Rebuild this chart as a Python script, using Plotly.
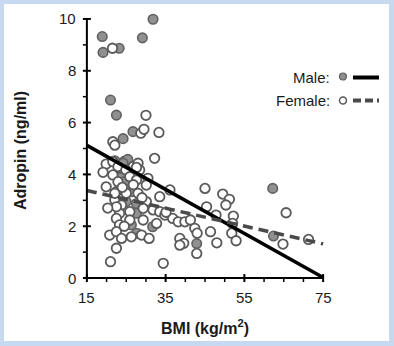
import plotly.graph_objects as go

# BMI (kg/m2) and adropin (ng/ml) per participant
male_bmi = [18.9, 19.1, 23.2, 29.1, 31.8, 21.0, 22.5, 26.7, 24.2, 22.1, 24.6, 25.4,
            24.2, 23.8, 24.6, 26.3, 25.0, 27.6, 27.6, 26.3, 31.7, 27.7, 42.9, 62.2, 62.4]
male_adropin = [9.32, 8.71, 8.87, 9.27, 9.99, 6.87, 6.29, 5.65, 5.38, 4.53, 4.52, 4.58,
                4.43, 3.98, 3.72, 3.33, 2.95, 2.88, 2.50, 2.05, 1.98, 1.73, 1.33, 3.46, 1.62]

female_bmi = [21.5, 30.0, 28.7, 29.5, 33.3, 21.6, 22.1, 32.2, 19.9, 19.1, 21.6, 23.3,
              22.9, 26.7, 28.0, 28.4, 27.6, 24.9, 21.6, 25.9, 27.6, 22.9, 30.5, 30.1,
              22.5, 25.0, 28.0, 33.5, 22.1, 23.8, 30.1, 29.3, 25.9, 23.3, 31.8, 33.5,
              22.5, 25.9, 23.3, 29.3, 32.7, 34.8, 20.8, 22.5, 23.8, 26.3, 28.9, 30.8,
              22.5, 21.0, 34.4, 36.1, 36.8, 38.2, 39.9, 41.3, 38.6, 39.6, 38.6, 42.9,
              48.0, 46.4, 42.4, 43.0, 45.0, 49.5, 51.2, 50.3, 45.4, 47.8, 52.2, 51.8,
              52.9, 52.0, 65.6, 64.8, 71.3, 19.9, 22.1, 22.5, 24.0, 26.8, 29.0, 24.5,
              20.3, 35.1]
female_adropin = [8.87, 6.28, 5.59, 5.74, 5.62, 5.26, 5.13, 4.62, 4.40, 4.08, 4.49, 4.24,
                  4.30, 4.30, 4.43, 4.17, 4.27, 4.17, 3.98, 3.91, 3.78, 3.72, 3.85, 3.59,
                  3.33, 3.27, 3.27, 3.14, 3.01, 2.82, 2.95, 2.69, 2.56, 2.50, 2.63, 2.56,
                  2.30, 2.24, 2.05, 2.24, 2.11, 2.43, 1.66, 1.79, 1.53, 1.59, 1.66, 1.53,
                  1.15, 0.63, 0.57, 3.40, 2.30, 2.17, 2.17, 2.24, 1.53, 1.34, 1.27, 0.95,
                  1.36, 1.79, 1.92, 1.73, 3.46, 3.24, 3.04, 2.82, 2.75, 2.43, 2.39, 1.73,
                  1.44, 2.11, 2.52, 1.31, 1.49, 3.52, 3.27, 2.75, 3.50, 3.60, 3.10, 2.00,
                  2.70, 2.54]

# Linear regression lines (endpoints over the BMI axis span)
fit_bmi = [15, 75]
male_fit = [5.12, 0.02]
female_fit = [3.38, 1.32]

x_ticks = [15, 35, 55, 75]
y_ticks = [0, 2, 4, 6, 8, 10]
x_minor = [20, 25, 30, 40, 45, 50, 60, 65, 70]
y_minor = [1, 3, 5, 7, 9]

# plot area is padded a little beyond the axes so the axis frame sits inside it
X_RANGE = [13, 77]
Y_RANGE = [-0.5, 10.5]

W_FIG, H_FIG = 394, 346
L, T, PW, PH = 79, 6, 252, 285
R, B = W_FIG - L - PW, H_FIG - T - PH


def px(x):
    return (x - L) / PW


def py(y):
    return (T + PH - y) / PH


FONT = "Liberation Sans, Arial, sans-serif"
EDGE = "#5a5a5a"
FRAME = "#c6d9f1"
TEXT = "#1a1a1a"
TICK = 4  # tick length, px

# tick length in data units along each direction
tick_dx = TICK * (X_RANGE[1] - X_RANGE[0]) / PW
tick_dy = TICK * (Y_RANGE[1] - Y_RANGE[0]) / PH
x0_axis, x1_axis = x_ticks[0], x_ticks[-1]
y0_axis, y1_axis = y_ticks[0], y_ticks[-1]

fig = go.Figure()

fig.add_trace(go.Scatter(
    x=male_bmi, y=male_adropin, mode="markers", name="Male",
    marker=dict(size=9.5, color="#909090", line=dict(color="#606060", width=1.6)),
    cliponaxis=False, showlegend=False))
fig.add_trace(go.Scatter(
    x=female_bmi, y=female_adropin, mode="markers", name="Female",
    marker=dict(size=9.5, color="white", line=dict(color=EDGE, width=1.8)),
    cliponaxis=False, showlegend=False))
fig.add_trace(go.Scatter(
    x=fit_bmi, y=male_fit, mode="lines",
    line=dict(color="black", width=3.5), showlegend=False))
fig.add_trace(go.Scatter(
    x=fit_bmi, y=female_fit, mode="lines",
    line=dict(color="#4a4a4a", width=3.5, dash="10px,6px"), showlegend=False))

# axis lines and crossing major ticks
ax_x, ax_y = [x0_axis, x1_axis, None, x0_axis, x0_axis, None], [y0_axis, y0_axis, None, y0_axis, y1_axis, None]
for v in x_ticks:
    ax_x += [v, v, None]
    ax_y += [y0_axis - tick_dy, y0_axis + tick_dy, None]
for v in y_ticks:
    ax_x += [x0_axis - tick_dx, x0_axis + tick_dx, None]
    ax_y += [v, v, None]
fig.add_trace(go.Scatter(x=ax_x, y=ax_y, mode="lines", connectgaps=False,
                         line=dict(color="black", width=2), hoverinfo="skip", showlegend=False))

# outward minor ticks
mn_x, mn_y = [], []
for v in x_minor:
    mn_x += [v, v, None]
    mn_y += [y0_axis - tick_dy, y0_axis, None]
for v in y_minor:
    mn_x += [x0_axis - tick_dx, x0_axis, None]
    mn_y += [v, v, None]
fig.add_trace(go.Scatter(x=mn_x, y=mn_y, mode="lines", connectgaps=False,
                         line=dict(color="black", width=1.5), hoverinfo="skip", showlegend=False))

fig.update_layout(
    width=W_FIG, height=H_FIG,
    margin=dict(l=L, r=R, t=T, b=B, pad=0),
    paper_bgcolor="white", plot_bgcolor="white",
    xaxis=dict(range=X_RANGE, showticklabels=False, ticks="",
               showgrid=False, zeroline=False, showline=False),
    yaxis=dict(range=Y_RANGE, showticklabels=False, ticks="",
               showgrid=False, zeroline=False, showline=False),
    showlegend=False,
)

frame = [
    # light blue frame around the card (top, bottom, left, right bands)
    dict(type="rect", x0=px(0), x1=px(W_FIG), y0=py(4), y1=py(0)),
    dict(type="rect", x0=px(0), x1=px(W_FIG), y0=py(H_FIG), y1=py(341)),
    dict(type="rect", x0=px(0), x1=px(4), y0=py(H_FIG), y1=py(0)),
    dict(type="rect", x0=px(389), x1=px(W_FIG), y0=py(H_FIG), y1=py(0)),
]
for s in frame:
    s.update(xref="paper", yref="paper", layer="above", fillcolor=FRAME, line=dict(width=0))

shapes = frame + [
    # legend glyphs
    dict(type="circle", xref="paper", yref="paper",
         x0=px(339.5), x1=px(346.5), y0=py(80), y1=py(73),
         fillcolor="#909090", line=dict(color="#606060", width=1.2)),
    dict(type="line", xref="paper", yref="paper",
         x0=px(353), x1=px(379), y0=py(77.5), y1=py(77.5),
         line=dict(color="black", width=4)),
    dict(type="circle", xref="paper", yref="paper",
         x0=px(339.5), x1=px(346.5), y0=py(104), y1=py(97),
         fillcolor="white", line=dict(color=EDGE, width=1.5)),
    dict(type="line", xref="paper", yref="paper",
         x0=px(353), x1=px(379), y0=py(100.5), y1=py(100.5),
         line=dict(color="#4a4a4a", width=4, dash="8px,4px")),
]
fig.update_layout(shapes=shapes)

tickfont = dict(family=FONT, size=15, color=TEXT)
# tick labels placed on the data scales
for v in x_ticks:
    fig.add_annotation(text=str(v), xref="x", yref="y", x=v, y=y0_axis,
                       xanchor="center", yanchor="top", yshift=-9,
                       showarrow=False, font=tickfont)
for v in y_ticks:
    fig.add_annotation(text=str(v), xref="x", yref="y", x=x0_axis, y=v,
                       xanchor="right", yanchor="middle", xshift=-9,
                       showarrow=False, font=tickfont)

annotations = [
    dict(text="Male:", x=px(332), y=py(77), xanchor="right", yanchor="middle"),
    dict(text="Female:", x=px(332), y=py(100), xanchor="right", yanchor="middle"),
]
for a in annotations:
    a.update(xref="paper", yref="paper", showarrow=False,
             font=dict(family=FONT, size=15, color=TEXT))
    fig.add_annotation(**a)

fig.add_annotation(text="<b>BMI (kg/m<sup>2</sup>)</b>", xref="paper", yref="paper",
                   x=px(205), y=py(327), xanchor="center", yanchor="middle", showarrow=False,
                   font=dict(family=FONT, size=16, color=TEXT))
fig.add_annotation(text="<b>Adropin (ng/ml)</b>", xref="paper", yref="paper",
                   x=px(20), y=py(151), xanchor="center", yanchor="middle", showarrow=False,
                   textangle=-90, font=dict(family=FONT, size=16, color=TEXT))

fig.write_html("out.html")
